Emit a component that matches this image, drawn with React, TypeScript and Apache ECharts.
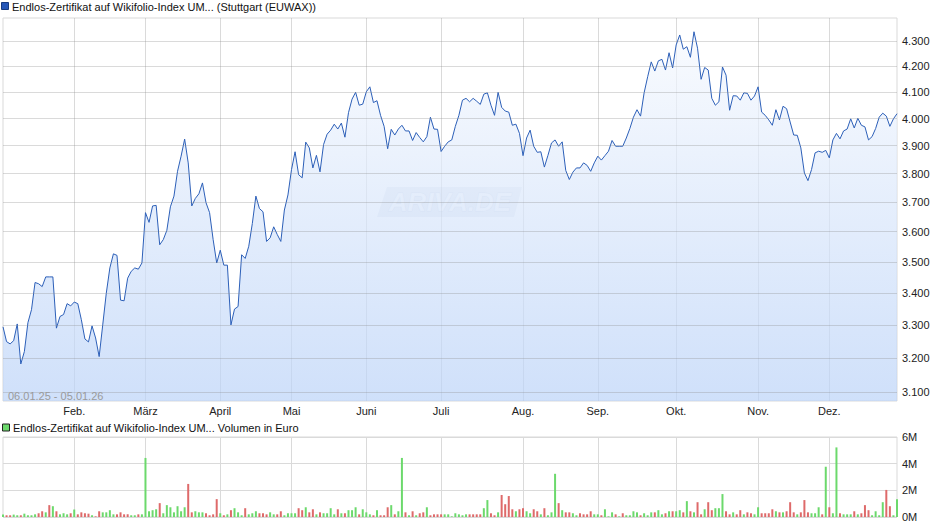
import React, { useEffect, useRef } from "react";
import * as echarts from "echarts";

const TITLE_PRICE = "Endlos-Zertifikat auf Wikifolio-Index UM... (Stuttgart (EUWAX))";
const TITLE_VOLUME = "Endlos-Zertifikat auf Wikifolio-Index UM... Volumen in Euro";
const RANGE_TEXT = "06.01.25 - 05.01.26";
const WATERMARK = "ARIVA.DE";

const MONTH_NAMES = ["Jan.", "Feb.", "März", "April", "Mai", "Juni", "Juli", "Aug.", "Sep.", "Okt.", "Nov.", "Dez."];
const LABEL_YEAR = "2025";
const HOLIDAYS = ["2025-04-18", "2025-04-21", "2025-05-01", "2025-12-24", "2025-12-25", "2025-12-26", "2025-12-31", "2026-01-01"];

const PRICES = [
  // Jan
  3294, 3249, 3242, 3252, 3303, 3182, 3219, 3307, 3347, 3433, 3429, 3420, 3451, 3451, 3451, 3290, 3326, 3332, 3366, 3359,
  // Feb
  3371, 3366, 3316, 3257, 3248, 3297, 3260, 3204, 3300, 3399, 3480, 3526, 3521, 3377, 3375, 3447, 3469, 3480, 3476, 3496,
  // Mar
  3664, 3631, 3687, 3689, 3556, 3573, 3604, 3684, 3721, 3808, 3862, 3924, 3838, 3687, 3713, 3729, 3767, 3698, 3664, 3573, 3496,
  // Apr
  3538, 3489, 3489, 3300, 3349, 3357, 3523, 3511, 3551, 3627, 3721, 3678, 3667, 3567, 3579, 3616, 3590, 3567, 3673, 3725,
  // May
  3814, 3878, 3796, 3785, 3913, 3892, 3820, 3865, 3806, 3904, 3942, 3957, 3979, 3961, 3983, 3931, 4022, 4073, 4099, 4050, 4054,
  // Jun
  4101, 4120, 4060, 4067, 4012, 3971, 3889, 3960, 3939, 3961, 3975, 3954, 3954, 3919, 3948, 3930, 3914, 3933, 4005, 3961, 3960,
  // Jul
  3879, 3898, 3914, 3921, 3971, 4012, 4069, 4076, 4063, 4076, 4065, 4053, 4092, 4097, 4050, 4012, 4099, 4042, 4028, 4024, 3975, 3979, 3945,
  // Aug
  3864, 3928, 3957, 3898, 3876, 3878, 3823, 3865, 3910, 3921, 3898, 3914, 3811, 3779, 3805, 3820, 3820, 3838, 3829, 3808, 3838,
  // Sep
  3862, 3848, 3864, 3880, 3919, 3898, 3898, 3898, 3928, 3963, 4005, 4033, 4009, 4097, 4159, 4217, 4181, 4221, 4227, 4185, 4253, 4193,
  // Oct
  4284, 4324, 4267, 4277, 4235, 4337, 4271, 4149, 4195, 4185, 4076, 4050, 4063, 4197, 4165, 4031, 4086, 4085, 4069, 4097, 4095, 4069, 4085,
  // Nov
  4120, 4024, 4012, 3995, 3975, 4033, 3995, 4046, 4037, 3987, 3939, 3938, 3892, 3802, 3775, 3814, 3874, 3880, 3876, 3883,
  // Dec / Jan
  3856, 3921, 3945, 3925, 3954, 3961, 3999, 3965, 4001, 3975, 3969, 3921, 3933, 3963, 4005, 4020, 4009, 3971, 3999, 4018,
];

// volume in million euro
const VOLUMES = [
  0.18, 0.13, 0.13, 0.18, 0.13, 0.13, 0.25, 0.13, 0.13, 0.20,
  0.28, 0.43, 0.35, 0.89, 0.81, 0.43, 0.20, 0.28, 0.20, 0.28,
  0.56, 0.20, 0.35, 0.28, 0.25, 0.13, 0.05, 0.43, 0.35, 0.35,
  0.51, 0.20, 0.20, 0.35, 0.20, 0.20, 0.13, 0.13, 0.20, 0.20,
  4.43, 0.43, 0.51, 0.58, 1.04, 0.28, 0.89, 0.73, 0.35, 0.81,
  0.43, 0.73, 2.48, 0.35, 0.43, 0.35, 0.35, 0.28, 0.13, 0.20,
  1.34, 0.28, 0.13, 0.20, 0.51, 0.66, 0.35, 0.13, 0.66, 0.20,
  0.28, 0.43, 0.28, 0.28, 0.20, 0.35, 0.20, 0.20, 0.43, 0.13,
  0.28, 0.28, 0.28, 0.66, 0.51, 0.73, 0.35, 0.58, 0.20, 0.35,
  0.28, 0.28, 0.66, 0.20, 0.58, 0.28, 0.28, 0.51, 0.51, 0.73,
  0.20, 0.58, 0.35, 0.20, 0.13, 0.51, 0.13, 0.13, 0.73, 0.89,
  0.20, 0.43, 4.43, 0.35, 0.13, 0.43, 0.13, 0.28, 0.35, 0.73,
  0.13, 0.20, 0.20, 0.20, 0.20, 0.20, 0.05, 0.28, 0.20, 0.13,
  0.20, 0.20, 0.20, 0.20, 0.20, 0.66, 1.27, 0.28, 0.13, 0.35,
  1.65, 0.96, 1.57, 0.58, 0.43, 0.58, 0.66, 0.43, 0.28, 0.58,
  0.43, 0.20, 0.66, 0.13, 0.35, 3.24, 1.04, 0.51, 0.35, 0.35,
  0.28, 0.13, 0.28, 0.20, 0.20, 0.43, 0.20, 0.20, 0.13, 0.58,
  0.05, 0.35, 0.20, 0.05, 0.28, 0.13, 0.13, 0.43, 0.35, 0.13,
  0.28, 0.13, 0.35, 0.35, 0.51, 0.20, 0.28, 0.43, 0.43, 0.43,
  0.51, 0.35, 1.19, 0.43, 0.35, 1.11, 0.20, 0.58, 1.11, 0.51,
  0.66, 0.66, 1.72, 0.43, 0.20, 0.35, 0.20, 0.51, 0.20, 0.35,
  0.28, 0.20, 0.73, 0.28, 0.28, 0.28, 0.58, 0.43, 0.35, 0.35,
  0.43, 1.11, 0.35, 0.20, 0.35, 1.27, 0.35, 0.28, 0.28, 0.73,
  0.20, 3.77, 0.73, 0.28, 5.22, 0.28, 0.20, 0.20, 0.20, 0.43,
  0.20, 0.28, 0.89, 0.51, 0.13, 0.43, 0.13, 1.11, 2.03, 0.81,
  0.13, 1.34,
];

// 1 = green (up), 0 = red (down)
const VOLUME_UP = [
  1, 0, 0, 1, 1, 0, 1, 1, 1, 1,
  0, 0, 1, 0, 1, 0, 1, 1, 1, 0,
  1, 0, 0, 0, 0, 1, 0, 0, 1, 1,
  1, 1, 0, 0, 0, 0, 1, 1, 0, 1,
  1, 1, 1, 1, 0, 1, 1, 1, 1, 1,
  1, 1, 0, 0, 1, 1, 1, 0, 0, 0,
  0, 1, 0, 1, 0, 1, 1, 1, 0, 1,
  1, 1, 0, 0, 0, 1, 1, 0, 0, 1,
  1, 1, 1, 0, 0, 1, 0, 0, 1, 0,
  1, 1, 1, 1, 0, 1, 0, 1, 1, 1,
  0, 1, 1, 1, 0, 1, 0, 0, 0, 1,
  0, 1, 1, 0, 1, 0, 1, 0, 0, 1,
  0, 0, 0, 0, 1, 1, 1, 1, 1, 1,
  1, 0, 0, 0, 0, 1, 1, 0, 0, 1,
  0, 0, 0, 0, 1, 0, 0, 1, 1, 0,
  0, 1, 0, 1, 1, 1, 0, 1, 0, 0,
  1, 1, 0, 0, 0, 0, 1, 1, 0, 1,
  1, 1, 0, 1, 0, 1, 1, 1, 1, 0,
  1, 1, 1, 0, 1, 1, 0, 1, 0, 1,
  1, 0, 1, 0, 1, 0, 0, 1, 0, 0,
  1, 1, 1, 0, 0, 1, 0, 0, 1, 0,
  0, 1, 1, 0, 0, 0, 0, 1, 0, 1,
  0, 0, 0, 1, 0, 0, 0, 1, 1, 1,
  0, 1, 0, 1, 1, 0, 1, 1, 1, 0,
  1, 0, 0, 0, 1, 1, 1, 1, 0, 0,
  1, 1,
];

const PRICE_TICKS = [3100, 3200, 3300, 3400, 3500, 3600, 3700, 3800, 3900, 4000, 4100, 4200, 4300];
const PRICE_MIN = 3074;
const PRICE_MAX = 4393;
const VOLUME_MAX = 6;
const VOLUME_TICK_STEP = 2;

function tradingDays(n: number): string[] {
  const out: string[] = [];
  const d = new Date(Date.UTC(2025, 0, 6));
  while (out.length < n) {
    const wd = d.getUTCDay();
    const iso = d.toISOString().slice(0, 10);
    if (wd !== 0 && wd !== 6 && HOLIDAYS.indexOf(iso) < 0) out.push(iso);
    d.setUTCDate(d.getUTCDate() + 1);
  }
  return out;
}

const FONT = '"Liberation Sans", Arial, Helvetica, sans-serif';

function fmtThousands(v: number): string {
  const r = Math.round(v);
  const th = Math.floor(r / 1000);
  const rest = r % 1000;
  return th > 0 ? `${th}.${String(rest).padStart(3, "0")}` : String(rest);
}

export default function App() {
  const ref = useRef<HTMLDivElement>(null);

  useEffect(() => {
    if (!ref.current) return;
    const chart = echarts.init(ref.current, undefined, { renderer: "svg" });
    const dates = tradingDays(PRICES.length);
    const isMonthStart = (i: number) =>
      i > 0 && dates[i].slice(0, 4) === LABEL_YEAR && dates[i].slice(5, 7) !== dates[i - 1].slice(5, 7);
    const gridColor = "rgba(140,140,140,0.32)";

    const option: any = {
      animation: false,
      textStyle: { fontFamily: FONT },
      grid: [
        { left: 3, top: 18, width: 894, height: 383, show: true, borderColor: "#d9d9d9", borderWidth: 1, backgroundColor: "transparent" },
        { left: 3, top: 437, width: 894, height: 80, show: true, borderColor: "#d9d9d9", borderWidth: 1, backgroundColor: "transparent" },
      ],
      xAxis: [
        {
          type: "category",
          gridIndex: 0,
          data: dates,
          boundaryGap: false,
          z: 3,
          axisLine: { show: false },
          axisTick: { show: false },
          axisLabel: {
            interval: (i: number) => isMonthStart(i),
            formatter: (v: string) => MONTH_NAMES[parseInt(v.slice(5, 7), 10) - 1],
            color: "#222",
            fontSize: 11,
            fontFamily: FONT,
            margin: 4,
          },
          splitLine: { show: true, interval: (i: number) => isMonthStart(i), lineStyle: { color: gridColor, width: 1 } },
        },
        {
          type: "category",
          gridIndex: 1,
          data: dates,
          boundaryGap: false,
          axisLine: { show: false },
          axisTick: { show: false },
          axisLabel: { show: false },
          splitLine: { show: true, interval: (i: number) => isMonthStart(i), lineStyle: { color: "#dadada", width: 1 } },
        },
      ],
      yAxis: [
        {
          type: "log",
          gridIndex: 0,
          min: PRICE_MIN,
          max: PRICE_MAX,
          position: "right",
          axisLine: { show: false },
          axisTick: { show: false },
          axisLabel: { show: false },
          splitLine: { show: false },
        },
        {
          type: "value",
          gridIndex: 1,
          min: 0,
          max: VOLUME_MAX,
          interval: VOLUME_TICK_STEP,
          position: "right",
          axisLine: { show: false },
          axisTick: { show: false },
          axisLabel: { formatter: (v: number) => `${v}M`, color: "#222", fontSize: 11, fontFamily: FONT, margin: 5 },
          splitLine: { show: true, lineStyle: { color: "#dadada", width: 1 } },
        },
      ],
      series: [
        {
          type: "line",
          xAxisIndex: 0,
          yAxisIndex: 0,
          data: PRICES,
          symbol: "none",
          smooth: false,
          lineStyle: { color: "#2c5fb8", width: 1 },
          areaStyle: {
            origin: "start",
            color: new echarts.graphic.LinearGradient(0, 0, 0, 1, [
              { offset: 0, color: "#f6f9fe" },
              { offset: 1, color: "#bbd3f8" },
            ]),
          },
          markLine: {
            silent: true,
            symbol: ["none", "none"],
            animation: false,
            lineStyle: { color: gridColor, type: "solid", width: 1 },
            label: {
              show: true,
              position: "end",
              distance: 5,
              color: "#222",
              fontSize: 11,
              fontFamily: FONT,
              formatter: (p: any) => fmtThousands(p.value),
            },
            emphasis: { disabled: true },
            data: PRICE_TICKS.map((t) => ({ yAxis: t })),
          },
        },
        {
          type: "bar",
          xAxisIndex: 1,
          yAxisIndex: 1,
          barWidth: 2,
          data: VOLUMES.map((v, i) => ({
            value: v,
            itemStyle: { color: VOLUME_UP[i] ? "#6cd96c" : "#de6a6a" },
          })),
        },
      ],
      graphic: [
        {
          type: "group",
          left: 377,
          top: 187,
          silent: true,
          z: 4,
          children: [
            {
              type: "polygon",
              shape: { points: [[10, 0], [145, 0], [137, 30], [0, 30]] },
              style: { fill: "rgba(140,160,195,0.2)" },
            },
            {
              type: "polygon",
              shape: { points: [[110, 0], [145, 0], [137, 30], [102, 30]] },
              style: { fill: "rgba(255,255,255,0.15)" },
            },
            {
              type: "text",
              x: 73,
              y: 15,
              style: {
                text: WATERMARK,
                font: `italic bold 26px ${FONT}`,
                fill: "rgba(255,255,255,0.75)",
                stroke: "rgba(160,178,205,0.3)",
                lineWidth: 1,
                align: "center",
                verticalAlign: "middle",
              },
            },
          ],
        },
        { type: "rect", shape: { x: 1.5, y: 2.5, width: 7, height: 7 }, style: { fill: "#2456b8", stroke: "#163a80", lineWidth: 1 } },
        {
          type: "text",
          x: 12,
          y: 6.5,
          style: { text: TITLE_PRICE, font: `11px ${FONT}`, fill: "#111", verticalAlign: "middle" },
        },
        { type: "rect", shape: { x: 2.5, y: 424, width: 7, height: 7 }, style: { fill: "#6cd96c", stroke: "#222", lineWidth: 1 } },
        {
          type: "text",
          x: 13,
          y: 427.5,
          style: { text: TITLE_VOLUME, font: `11px ${FONT}`, fill: "#111", verticalAlign: "middle" },
        },
        {
          type: "text",
          x: 8,
          y: 396,
          z: 10,
          style: { text: RANGE_TEXT, font: `11px ${FONT}`, fill: "#9a9a9a", verticalAlign: "middle" },
        },
      ],
    };

    chart.setOption(option);
    return () => chart.dispose();
  }, []);

  return <div ref={ref} style={{ position: "fixed", left: 0, top: 0, width: 940, height: 526, background: "#fff" }} />;
}
